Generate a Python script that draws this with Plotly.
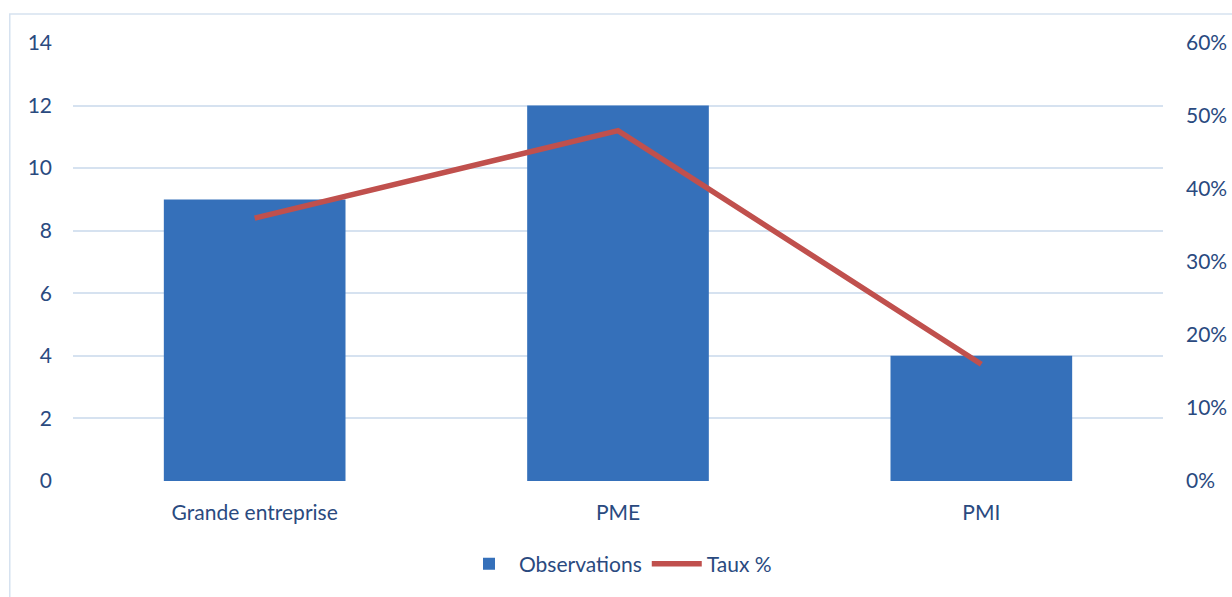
import plotly.graph_objects as go

categories = ["Grande entreprise", "PME", "PMI"]
observations = [9, 12, 4]
taux = [0.36, 0.48, 0.16]
left_ticks = [0, 2, 4, 6, 8, 10, 12, 14]
right_ticks = [0, 0.1, 0.2, 0.3, 0.4, 0.5, 0.6]

txt = "#2A4A7F"
grid = "#D6E2F0"
font = "Lato"
fs = 21

fig = go.Figure()
fig.add_trace(go.Bar(
    x=categories, y=observations, name="Observations",
    marker=dict(color="#3570BA", line=dict(width=0)),
    width=0.5, yaxis="y"))
fig.add_trace(go.Scatter(
    x=categories, y=taux, name="Taux %", mode="lines",
    line=dict(color="#C0504D", width=5.5), yaxis="y2"))

fig.update_layout(
    width=1232, height=597,
    margin=dict(l=73, r=69, t=43, b=116, autoexpand=False),
    paper_bgcolor="white", plot_bgcolor="white",
    font=dict(family=font, size=fs, color=txt),
    bargap=0.5,
    xaxis=dict(showgrid=False, showline=False, ticks="", ticklabelstandoff=17,
               tickfont=dict(size=fs, color=txt), automargin=False),
    yaxis=dict(range=[0, 14], tickvals=left_ticks, showgrid=True, gridcolor=grid,
               gridwidth=1.5, zeroline=False, showline=False, automargin=False,
               ticklabelstandoff=20, tickfont=dict(size=fs, color=txt)),
    yaxis2=dict(range=[0, 0.6], tickvals=right_ticks, tickformat=".0%",
                overlaying="y", side="right", showgrid=False, zeroline=False,
                showline=False, ticklabelstandoff=22, automargin=False,
                tickfont=dict(size=fs, color=txt)),
    legend=dict(orientation="h", x=0.5, xanchor="center", y=-0.19, yanchor="middle",
                font=dict(size=fs, color=txt), itemwidth=50, traceorder="normal"),
    shapes=[dict(type="rect", xref="paper", yref="paper",
                 x0=-0.058, x1=1.2, y0=-0.5, y1=1.066,
                 line=dict(color="#D6E2F0", width=1.5), fillcolor="rgba(0,0,0,0)",
                 layer="below")],
)

fig.write_html("out.html", config={"displayModeBar": False},
               post_script="document.body.style.margin='0';document.body.style.overflow='hidden';")
